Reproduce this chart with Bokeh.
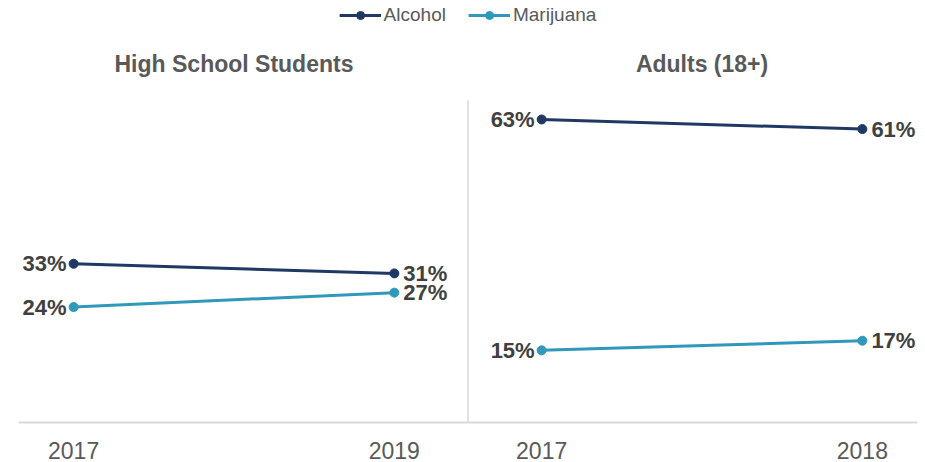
from bokeh.plotting import figure
from bokeh.models import ColumnDataSource, FactorRange, Range1d, Legend, LegendItem
from bokeh.core.properties import value
from bokeh.embed import file_html
from bokeh.resources import INLINE

# ---- data ----
groups = ["High School Students", "Adults (18+)"]
hs_years = ["2017", "2019"]
adult_years = ["2017", "2018"]
hs_alcohol = [33, 31]
hs_marijuana = [24, 27]
adult_alcohol = [63, 61]
adult_marijuana = [15, 17]
series_names = ["Alcohol", "Marijuana"]
series_colors = ["#203864", "#3098BA"]

panels = [
    (groups[0], hs_years, [hs_alcohol, hs_marijuana]),
    (groups[1], adult_years, [adult_alcohol, adult_marijuana]),
]

FONT = "Liberation Sans"
factors = [(g, yr) for g, yrs, _ in panels for yr in yrs]

FP, GP, RP = 2.2, 0.47, 0.05
x_range = FactorRange(factors=factors, factor_padding=FP, group_padding=GP,
                      range_padding=RP, range_padding_units="absolute")

p = figure(width=925, height=462, x_range=x_range, y_range=Range1d(0, 86.9),
           output_backend="svg", toolbar_location=None, y_axis_location=None,
           min_border_left=18, min_border_right=8, min_border_top=4, min_border_bottom=40)

p.xgrid.grid_line_color = None
p.ygrid.grid_line_color = None
p.outline_line_color = None

ax = p.xaxis[0]
ax.major_label_text_font = FONT
ax.major_label_text_font_size = "23px"
ax.major_label_text_color = "#595959"
ax.major_tick_line_color = None
ax.minor_tick_line_color = None
ax.group_text_font_size = "0px"
ax.group_text_color = None
ax.separator_line_color = None
ax.axis_line_color = "#D9D9D9"
ax.axis_line_width = 2
ax.major_label_standoff = 13

# divider between the two panels
div_x = 0.5 + (1 + FP) + (1 + GP) / 2
p.segment(x0=[div_x], y0=[0], x1=[div_x], y1=[67], line_color="#D9D9D9", line_width=1.5)

# panel titles
p.text(x=groups, y=[74.6, 74.6], text=groups, text_align="center", text_baseline="middle",
       text_font=value(FONT), text_font_style="bold", text_font_size="23px", text_color="#595959")

legend_items = {n: [] for n in series_names}
for g, yrs, series in panels:
    xs = [(g, yr) for yr in yrs]
    for name, color, vals in zip(series_names, series_colors, series):
        src = ColumnDataSource(dict(x=xs, y=vals))
        rl = p.line("x", "y", source=src, line_color=color, line_width=3)
        rs = p.scatter("x", "y", source=src, size=9, fill_color=color, line_color=color)
        if not legend_items[name]:
            legend_items[name] = [rl, rs]
        p.text(x=[xs[0]], y=[vals[0]], text=[f"{vals[0]}%"], text_align="right",
               text_baseline="middle", x_offset=-7, text_font=value(FONT),
               text_font_style="bold", text_font_size="22px", text_color="#404040")
        p.text(x=[xs[1]], y=[vals[1]], text=[f"{vals[1]}%"], text_align="left",
               text_baseline="middle", x_offset=9, text_font=value(FONT),
               text_font_style="bold", text_font_size="22px", text_color="#404040")

legend = Legend(items=[LegendItem(label=n, renderers=legend_items[n]) for n in series_names],
                location="top_center", orientation="horizontal")
legend.label_text_font = FONT
legend.label_text_font_size = "19px"
legend.label_text_color = "#595959"
legend.glyph_width = 42
legend.glyph_height = 20
legend.label_standoff = 3
legend.spacing = 22
legend.padding = 0
legend.margin = 0
legend.border_line_color = None
legend.background_fill_alpha = 0
p.add_layout(legend)

open("out.html", "w").write(file_html(p, INLINE))
